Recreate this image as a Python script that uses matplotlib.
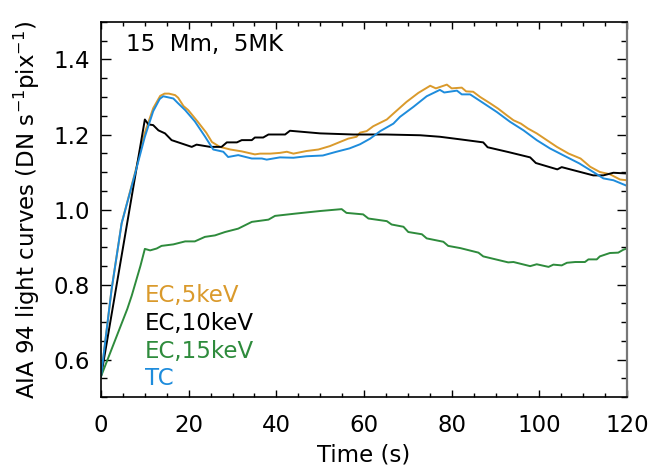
import numpy as np
import matplotlib
matplotlib.use('Agg')
import matplotlib.pyplot as plt
from matplotlib.ticker import MultipleLocator

# EC, 5 keV (orange)
t_ec5 = [0, 2.4, 4.7, 7.8, 10, 11.9, 13.5, 14.5, 15.5, 16.9, 17.6, 18.8, 19.9, 22, 24, 25.3,
         27.1, 29.5, 32.1, 35.1, 36.3, 38.6, 40.8, 42.4, 43.9, 46.9, 49.6, 52.2, 54.5, 56.4,
         58.3, 59.1, 60.6, 62.1, 65.2, 67.1, 69.7, 72.4, 75.1, 76.4, 78.9, 80.0, 82.3, 83.3,
         84.9, 86.5, 88.8, 90.6, 92.6, 94.1, 95.8, 97.4, 99.4, 101.7, 104.0, 106.7, 109.4,
         111.6, 113.8, 116.1, 118.4, 120]
v_ec5 = [0.555, 0.786, 0.963, 1.10, 1.205, 1.27, 1.303, 1.309, 1.309, 1.305, 1.298, 1.276,
         1.265, 1.235, 1.205, 1.18, 1.167, 1.16, 1.155, 1.147, 1.149, 1.149, 1.151, 1.154,
         1.149, 1.156, 1.16, 1.169, 1.18, 1.189, 1.194, 1.205, 1.209, 1.222, 1.24, 1.26,
         1.287, 1.311, 1.330, 1.323, 1.333, 1.323, 1.325, 1.315, 1.314, 1.30, 1.283, 1.269,
         1.251, 1.238, 1.229, 1.216, 1.203, 1.185, 1.167, 1.149, 1.136, 1.114, 1.10, 1.094,
         1.08, 1.078]

# EC, 10 keV (black)
t_ec10 = [0, 10, 10.8, 11.9, 13.1, 14.6, 16.1, 18.4, 20.7, 21.8, 24.9, 27.5, 28.7, 31.0,
          32.1, 34.4, 35.1, 37.0, 38.2, 42.0, 43.1, 50.0, 57.6, 65, 72.8, 77.3, 82, 87.2,
          88.2, 93, 97.9, 99.2, 104.1, 105.1, 112.3, 114.6, 116.9, 120]
v_ec10 = [0.555, 1.24, 1.227, 1.225, 1.211, 1.203, 1.185, 1.176, 1.167, 1.173, 1.167, 1.167,
          1.179, 1.179, 1.185, 1.185, 1.192, 1.192, 1.2, 1.2, 1.21, 1.203, 1.2, 1.2, 1.198,
          1.194, 1.187, 1.179, 1.166, 1.153, 1.139, 1.124, 1.107, 1.113, 1.091, 1.091,
          1.098, 1.096]

# EC, 15 keV (green)
t_ec15 = [0, 2, 4, 6, 7, 8, 9, 10, 11.2, 12.7, 13.8, 16.5, 19.2, 21.4, 23.7, 26.0, 28.3,
          31.3, 34.4, 38.2, 39.7, 44.3, 50.0, 54.9, 56.0, 59.8, 61.0, 65.2, 66.3, 69.0, 70.1,
          73.2, 74.3, 78.1, 79.2, 82, 86.1, 87.2, 92.9, 94.1, 97.9, 99.4, 102.1, 103.2, 105.1,
          106.3, 108.2, 110.4, 111.2, 113.1, 113.8, 116.1, 118.0, 119.2, 120]
v_ec15 = [0.555, 0.615, 0.675, 0.735, 0.77, 0.81, 0.85, 0.895, 0.891, 0.896, 0.903, 0.907,
          0.915, 0.915, 0.927, 0.931, 0.94, 0.949, 0.967, 0.973, 0.983, 0.989, 0.996, 1.001,
          0.991, 0.987, 0.976, 0.969, 0.96, 0.954, 0.94, 0.934, 0.923, 0.914, 0.903, 0.897,
          0.885, 0.875, 0.859, 0.86, 0.849, 0.854, 0.847, 0.853, 0.851, 0.858, 0.86, 0.86,
          0.867, 0.867, 0.875, 0.884, 0.885, 0.893, 0.896]

# TC (blue)
t_tc = [0, 2.4, 4.7, 7.8, 10, 11.9, 13.4, 14.2, 16.5, 17.6, 19.2, 21.4, 23.7, 25.6, 27.9,
        29.0, 31.3, 34.4, 36.7, 37.8, 40.8, 43.9, 46.9, 50.6, 53.7, 56.7, 59.1, 61.4, 63.7,
        66.7, 68.2, 71.3, 74.3, 77.3, 78.3, 81.2, 82.3, 84.2, 87.2, 90.3, 93.3, 96.4, 99.4,
        102.4, 105.4, 109.1, 112.3, 114.6, 116.9, 120]
v_tc = [0.555, 0.786, 0.963, 1.097, 1.194, 1.262, 1.295, 1.302, 1.296, 1.283, 1.265, 1.235,
        1.195, 1.16, 1.154, 1.14, 1.145, 1.136, 1.136, 1.133, 1.139, 1.138, 1.142, 1.144,
        1.154, 1.163, 1.174, 1.189, 1.209, 1.229, 1.247, 1.274, 1.302, 1.319, 1.312, 1.317,
        1.307, 1.307, 1.284, 1.26, 1.234, 1.211, 1.185, 1.163, 1.145, 1.123, 1.10, 1.083,
        1.078, 1.063]

labels = ['EC,5keV', 'EC,10keV', 'EC,15keV', 'TC']
colors = ['#DA9A2C', 'black', '#2E8B3C', '#1E8CDC']

fs = 16.5

fig = plt.figure(figsize=(6.53, 4.74), dpi=100)
ax = fig.add_axes([0.1547, 0.1624, 0.8055, 0.7912])

series = [(t_ec5, v_ec5), (t_ec10, v_ec10), (t_ec15, v_ec15), (t_tc, v_tc)]
for (t, v), c in zip(series, colors):
    ax.plot(t, v, color=c, lw=1.4)

ax.set_xlim(0, 120)
ax.set_ylim(0.5, 1.5)
ax.xaxis.set_major_locator(MultipleLocator(20))
ax.xaxis.set_minor_locator(MultipleLocator(5))
ax.yaxis.set_major_locator(MultipleLocator(0.2))
ax.yaxis.set_minor_locator(MultipleLocator(0.05))
ax.yaxis.set_major_formatter(matplotlib.ticker.FormatStrFormatter('%.1f'))

ax.tick_params(axis='both', which='both', direction='in', top=True, right=True,
               labelsize=fs, width=1)
ax.tick_params(axis='x', which='major', length=5, pad=12)
ax.tick_params(axis='x', which='minor', length=2.8)
ax.tick_params(axis='y', which='major', length=7, pad=8)
ax.tick_params(axis='y', which='minor', length=4)
for s in ax.spines.values():
    s.set_linewidth(1.2)
ax.spines['right'].set_color('#777777')
ax.spines['right'].set_linewidth(1.6)

ax.set_xlabel('Time (s)', fontsize=fs, labelpad=5)
ax.set_ylabel(r'AIA 94 light curves (DN s$^{-1}$pix$^{-1}$)', fontsize=fs, labelpad=8)

ax.text(0.048, 0.94, '15  Mm,  5MK', transform=ax.transAxes, fontsize=fs,
        ha='left', va='center')

label_y = [0.771, 0.697, 0.622, 0.550]
for lab, c, y in zip(labels, colors, label_y):
    ax.text(10, y, lab, color=c, fontsize=fs, ha='left', va='center')

fig.savefig('out.png', dpi=100)
